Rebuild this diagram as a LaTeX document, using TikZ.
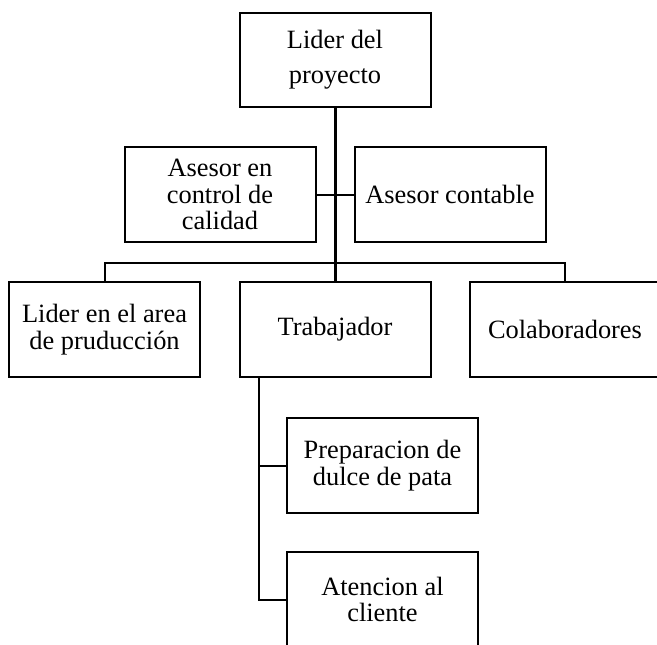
\documentclass[tikz,border=0pt]{standalone}
\usepackage{fontspec}
\setmainfont{Liberation Serif}
\begin{document}
\begin{tikzpicture}[x=1pt,y=-1pt,
  box/.style={draw=black,line width=2pt,fill=white,inner sep=0pt,
    minimum width=191pt,minimum height=95pt,align=center,
    font=\fontsize{26.4}{26.5}\selectfont},
  link/.style={line width=2pt},
  trunk/.style={line width=3pt}]
\useasboundingbox (0,0) rectangle (657,645);
\clip (0,0) rectangle (657,645);

% boxes
\node[box,minimum height=94pt,font=\fontsize{26.4}{34.7}\selectfont] (top) at (335,60) {Lider del\\proyecto};
\node[box] (aq) at (220,194.5) {Asesor en\\control de\\calidad};
\node[box] (ac) at (450,194.5) {Asesor contable};
\node[box] (lider) at (104.5,329.5) {Lider en el area\\de pruducción};
\node[box] (trab) at (335,329.5) {Trabajador};
\node[box] (colab) at (565,329.5) {Colaboradores};
\node[box] (prep) at (382.5,465.5) {Preparacion de\\dulce de pata};
\node[box] (aten) at (382.5,599.5) {Atencion al\\cliente};

% helper points
\coordinate (bus) at (335,263);
\coordinate (drop) at (259,377);

% connectors
\draw[link] (aq.east) -- (ac.west);
\draw[link] (lider.north) |- (bus) -| (colab.north);
\draw[trunk] (top.south) -- (trab.north);
\draw[link] (drop) |- (prep.west);
\draw[link] (drop) |- (aten.west);
\end{tikzpicture}
\end{document}
